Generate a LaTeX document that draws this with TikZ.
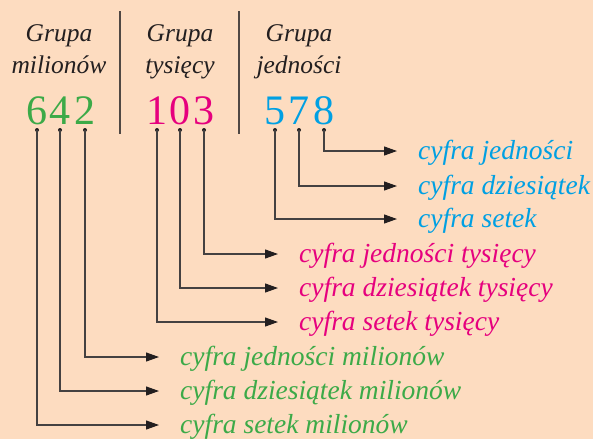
\documentclass[tikz,border=0pt]{standalone}
\usepackage{fontspec}
\setmainfont{Liberation Serif}
\usetikzlibrary{arrows.meta}
\definecolor{bg}{RGB}{253,220,192}
\definecolor{ink}{RGB}{35,31,32}
\definecolor{grn}{RGB}{60,170,72}
\definecolor{pnk}{RGB}{230,0,126}
\definecolor{blu}{RGB}{0,160,227}
\definecolor{rulec}{RGB}{80,72,68}
\begin{document}
\begin{tikzpicture}[x=1pt,y=1pt,
  head/.style={font=\fontsize{25.5}{30}\selectfont\itshape, text=ink, inner sep=0pt, anchor=base},
  digit/.style={font=\fontsize{42}{42}\selectfont, inner sep=0pt, anchor=base},
  lab/.style={font=\fontsize{27.5}{30}\selectfont\itshape, inner sep=0pt, anchor=base west},
  pin/.style={circle, fill=ink, inner sep=0pt, minimum size=4pt},
  link/.style={draw=ink!85!white, line width=1.1pt, shorten >=21pt,
    -{Triangle[length=13pt,width=9pt,fill=ink,color=ink]}},
  sep/.style={draw=rulec, line width=1.2pt}]
  % canvas
  \fill[bg] (0,0) rectangle (593,-439);
  \useasboundingbox (0,0) rectangle (593,-439);

  % group separators
  \draw[sep] (120,-11) -- (120,-134);
  \draw[sep] (239,-11) -- (239,-134);

  % group headings
  \node[head] (h1a) at (59,-41) {Grupa};
  \node[head] (h1b) at (59,-73) {milionów};
  \node[head] (h2a) at (180,-41) {Grupa};
  \node[head] (h2b) at (180,-73) {tysięcy};
  \node[head] (h3a) at (299,-41) {Grupa};
  \node[head] (h3b) at (299,-73) {jedności};

  % digits of the number
  \node[digit, text=grn] (n6) at (37,-124.5) {6};
  \node[digit, text=grn] (n4) at (60,-124.5) {4};
  \node[digit, text=grn] (n2) at (85,-124.5) {2};
  \node[digit, text=pnk] (n1) at (157,-124.5) {1};
  \node[digit, text=pnk] (n0) at (180,-124.5) {0};
  \node[digit, text=pnk] (n3) at (204,-124.5) {3};
  \node[digit, text=blu] (n5) at (275,-124.5) {5};
  \node[digit, text=blu] (n7) at (299,-124.5) {7};
  \node[digit, text=blu] (n8) at (324,-124.5) {8};

  % pins under the digits
  \node[pin] (p6) at (37,-130) {};
  \node[pin] (p4) at (60,-130) {};
  \node[pin] (p2) at (85,-130) {};
  \node[pin] (p1) at (157,-130) {};
  \node[pin] (p0) at (180,-130) {};
  \node[pin] (p3) at (204,-130) {};
  \node[pin] (p5) at (275,-130) {};
  \node[pin] (p7) at (299,-130) {};
  \node[pin] (p8) at (324,-130) {};

  % digit names (baseline 8.5pt below the arrow that points at them)
  \node[lab, text=blu] (l8) at (418,-159.5) {cyfra jedności};
  \node[lab, text=blu] (l7) at (418,-194.5) {cyfra dziesiątek};
  \node[lab, text=blu] (l5) at (418,-227.5) {cyfra setek};
  \node[lab, text=pnk] (l3) at (299,-262.5) {cyfra jedności tysięcy};
  \node[lab, text=pnk] (l0) at (299,-296.5) {cyfra dziesiątek tysięcy};
  \node[lab, text=pnk] (l1) at (299,-330.5) {cyfra setek tysięcy};
  \node[lab, text=grn] (l2) at (180,-365.5) {cyfra jedności milionów};
  \node[lab, text=grn] (l4) at (180,-399.5) {cyfra dziesiątek milionów};
  \node[lab, text=grn] (l6) at (180,-433.5) {cyfra setek milionów};

  % connectors
  \foreach \d in {8,7,5,3,0,1,2,4,6}
    \draw[link] (p\d.center) |- ([yshift=8.5pt]l\d.base west);
\end{tikzpicture}
\end{document}
